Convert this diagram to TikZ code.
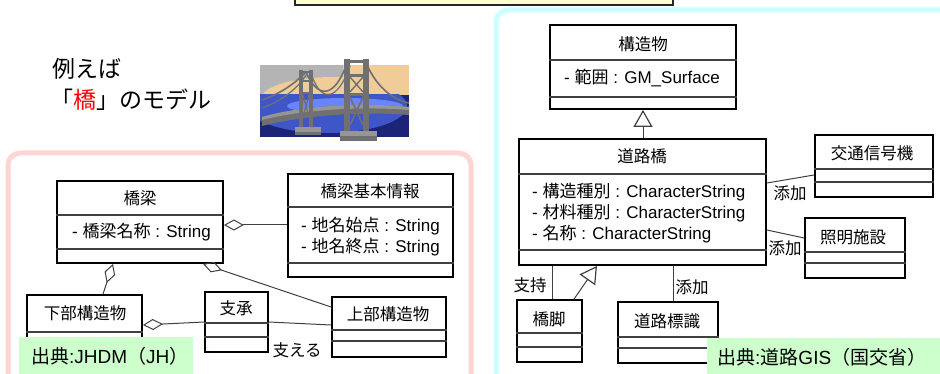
\documentclass[tikz,border=0pt]{standalone}
\usepackage{fontspec}
\setmainfont{Liberation Sans}
\newfontfamily\jp{Noto Sans CJK JP}
\usetikzlibrary{arrows.meta,fit}

\newcommand\J[1]{{\jp #1}}

\definecolor{pinkframe}{RGB}{255,212,212}
\definecolor{cyanframe}{RGB}{204,255,255}
\definecolor{notefill}{RGB}{255,255,204}
\definecolor{srcfill}{RGB}{204,255,204}
\definecolor{linkgray}{RGB}{64,64,64}
\definecolor{bsky}{RGB}{180,180,180}
\definecolor{bsand}{RGB}{240,204,152}
\definecolor{bnavy}{RGB}{28,36,120}
\definecolor{bblue}{RGB}{62,86,200}
\definecolor{blight}{RGB}{104,132,255}
\definecolor{btower}{RGB}{112,112,112}
\definecolor{btowerlt}{RGB}{150,150,150}

\tikzset{
  clsbox/.style={draw=black, line width=1.8pt, fill=white, inner sep=0pt},
  divider/.style={draw=black!75, line width=1.1pt},
  ttl/.style={font=\jp\fontsize{16.5}{20}\selectfont, inner sep=0pt},
  attr/.style={font=\fontsize{17}{21}\selectfont, align=left, anchor=west, inner sep=0pt},
  link/.style={draw=linkgray, line width=1pt},
  agg/.style={link, {Diamond[open, length=20pt, width=11pt, line width=1pt]}-},
  gen/.style={link, -{Triangle[open, length=17pt, width=19pt, line width=1.2pt]}},
  lbl/.style={font=\jp\fontsize{16.5}{20}\selectfont, inner sep=0pt},
  srcbox/.style={fill=srcfill, inner sep=0pt},
  srctext/.style={font=\fontsize{19}{22}\selectfont, anchor=west, inner sep=0pt},
  intro/.style={font=\jp\fontsize{23}{28}\selectfont, anchor=west, inner sep=0pt},
}

% class box: name, x1, y1, x2, y2, first divider, second divider
\newcommand\umlbox[7]{%
  \node[clsbox, fit={(#2,#3) (#4,#5)}] (#1) {};
  \draw[divider] (#1.west |- 0,#6) -- (#1.east |- 0,#6);
  \draw[divider] (#1.west |- 0,#7) -- (#1.east |- 0,#7);
}

\begin{document}
\begin{tikzpicture}[x=1pt, y=-1pt]
\useasboundingbox (0,0) rectangle (940,374);
\clip (0,0) rectangle (940,374);

% note strip at the top
\draw[fill=notefill, draw=black!85, line width=1.2pt] (295,-10) rectangle (673,5);

% group frames
\draw[pinkframe, line width=5pt, rounded corners=12pt] (8,153) rectangle (471,395);
\draw[cyanframe, line width=5pt, rounded corners=12pt] (496,10) rectangle (965,395);

% heading text
\node[intro] (intro1) at (52,69) {例えば};
\node[intro] (intro2) at (50,100) {「{\color{red}橋}」のモデル};

% bridge picture
\begin{scope}
  \clip (260,65) rectangle (409,137);
  \fill[bsky] (260,65) rectangle (409,137);
  \fill[bsand] (343,65) -- (409,65) -- (409,112) -- (343,112) -- cycle;
  \fill[bsand] (333,99) ellipse [x radius=72, y radius=22];
  \fill[bnavy] (260,95) rectangle (409,137);
  \begin{scope}
    \clip (260,95) rectangle (409,137);
    \fill[bblue] (327,106) ellipse [x radius=80, y radius=27];
    \fill[blight] (345,106) ellipse [x radius=58, y radius=8];
  \end{scope}
  % main cables
  \draw[btower, line width=1.6pt] (262,100) .. controls (285,92) and (298,80) .. (306,72);
  \draw[btower, line width=1.6pt] (306,72) .. controls (318,100) and (335,98) .. (347,63);
  \draw[btower, line width=1.6pt] (366,63) .. controls (378,90) and (395,100) .. (409,103);
  \draw[btower, line width=1.2pt] (262,108) .. controls (285,100) and (300,85) .. (306,75);
  \draw[btower, line width=1.2pt] (312,76) .. controls (322,104) and (338,100) .. (350,66);
  % deck
  \fill[btower] (262,117) .. controls (300,106) and (360,102) .. (409,107)
    -- (409,115) .. controls (360,111) and (300,116) .. (262,126) -- cycle;
  \fill[btowerlt] (262,117) .. controls (300,106) and (360,102) .. (409,107)
    -- (409,110) .. controls (360,106) and (300,110) .. (262,120) -- cycle;
\end{scope}
% towers of the bridge picture
\begin{scope}
  \fill[btower] (299,70) rectangle (303,130);
  \fill[btower] (309,70) rectangle (313,130);
  \foreach \yy in {71,80,92} \fill[btower] (299,\yy) rectangle (313,\yy+2.5);
  \draw[btower, line width=1.2pt] (303,95) -- (309,117) (309,95) -- (303,117);
  \fill[btowerlt] (295,127) rectangle (321,132);
  \fill[btower] (295,132) rectangle (321,135);
  \fill[btower] (344,59) rectangle (350,134);
  \fill[btower] (363,59) rectangle (369,134);
  \foreach \yy in {60,74,93} \fill[btower] (344,\yy) rectangle (369,\yy+3);
  \draw[btower, line width=1.6pt] (350,97) -- (363,125) (363,97) -- (350,125);
  \draw[btower, line width=1.4pt] (350,77) -- (363,92) (363,77) -- (350,92);
  \fill[btowerlt] (340,131) rectangle (377,136);
  \fill[btower] (340,136) rectangle (377,141);
\end{scope}

% ---------- left model ----------
\umlbox{kyoryo}{57}{181}{223}{263}{215}{249}
\node[ttl] (kyoryo-t) at (140,198) {橋梁};
\node[attr] (kyoryo-a) at (72,232) {- \J{橋梁名称} : String};

\umlbox{kihon}{288}{174}{453}{277}{207}{263}
\node[ttl] (kihon-t) at (370,191) {橋梁基本情報};
\node[attr] (kihon-a) at (301,236.5) {- \J{地名始点} : String\\- \J{地名終点} : String};

\umlbox{kabu}{27}{295}{142}{368}{332}{348}
\node[ttl] (kabu-t) at (85,313) {下部構造物};

\umlbox{shisho}{205}{292}{268}{352}{323}{337}
\node[ttl] (shisho-t) at (236,308) {支承};

\umlbox{jobu}{332}{297}{446}{357}{330}{341}
\node[ttl] (jobu-t) at (388,314) {上部構造物};

\draw[agg] (kyoryo.east |- 0,225) -- (kihon.west |- 0,225);
\draw[agg] (kyoryo.south -| 113,0) -- (kabu.north -| 103,0);
\draw[agg] (kyoryo.south -| 203,0) -- (jobu.west |- 0,307);
\draw[agg] (kabu.east |- 0,325) -- (shisho.west |- 0,322);
\draw[link] (shisho.east |- 0,322) -- (jobu.west |- 0,325);
\node[lbl] (sasaeru) at (297,350) {支える};

\node[srcbox, fit={(19,337) (193,380)}] (src1) {};
\node[srctext] (src1-t) at (31,356) {\J{出典}:JHDM\J{（}JH\J{）}};

% ---------- right model ----------
\umlbox{kozo}{550}{25}{736}{109}{60}{97}
\node[ttl] (kozo-t) at (643,44) {構造物};
\node[attr] (kozo-a) at (564,78) {- \J{範囲} : GM\_Surface};

\umlbox{doro}{519}{139}{766}{265}{174}{250}
\node[ttl] (doro-t) at (642,156) {道路橋};
\node[attr] (doro-a) at (532,213) {- \J{構造種別} : CharacterString\\- \J{材料種別} : CharacterString\\- \J{名称} : CharacterString};

\umlbox{shingo}{815}{135}{933}{197}{169}{182}
\node[ttl] (shingo-t) at (872,153) {交通信号機};

\umlbox{shomei}{805}{218}{905}{278}{252}{263}
\node[ttl] (shomei-t) at (853,237) {照明施設};

\umlbox{kyakus}{517}{300}{582}{362}{333}{347}
\node[ttl] (kyakus-t) at (549,319) {橋脚};

\umlbox{hyoshiki}{618}{302}{718}{363}{337}{348}
\node[ttl] (hyoshiki-t) at (667,321) {道路標識};

\draw[gen] (doro.north -| 643,0) -- (kozo.south -| 643,0);
\draw[link] (doro.east |- 0,183) -- (shingo.west |- 0,175);
\node[lbl] (tenka1) at (790,193) {添加};
\draw[link] (doro.east |- 0,230) -- (shomei.west |- 0,238);
\node[lbl] (tenka2) at (785,248) {添加};
\draw[link] (doro.south -| 552,0) -- (kyakus.north -| 552,0);
\node[lbl] (shiji) at (530,285) {支持};
\draw[gen] (kyakus.north -| 574,0) -- (doro.south -| 597,0);
\draw[link] (doro.south -| 673,0) -- (hyoshiki.north -| 673,0);
\node[lbl] (tenka3) at (692,287) {添加};

\node[srcbox, fit={(707,338) (945,380)}] (src2) {};
\node[srctext] (src2-t) at (717,357) {\J{出典}:\J{道路}GIS\J{（国交省）}};

\end{tikzpicture}
\end{document}
